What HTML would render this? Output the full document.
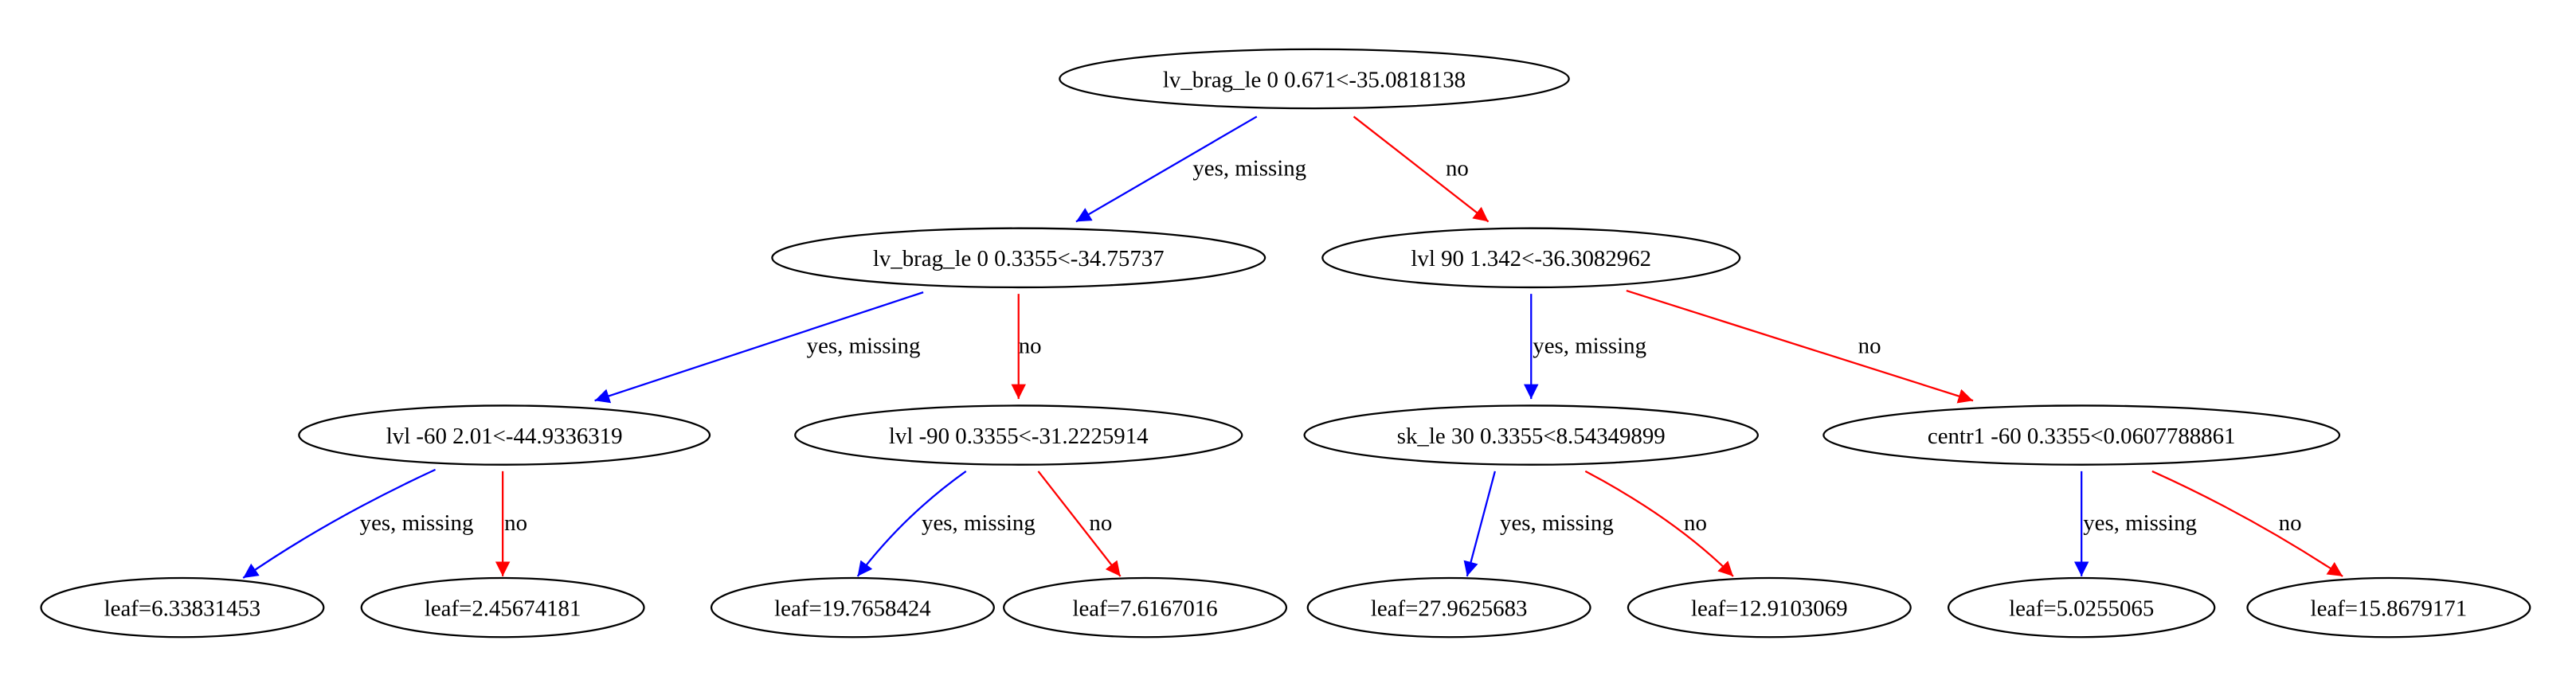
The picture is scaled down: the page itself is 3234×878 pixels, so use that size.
<!DOCTYPE html>
<html><head><meta charset="utf-8"><style>html,body{margin:0;padding:0;background:#fff}svg{display:block}</style></head>
<body>
<svg width="3234" height="878" viewBox="0 0 1568 425.7" preserveAspectRatio="none" xmlns="http://www.w3.org/2000/svg" font-family="Liberation Serif, serif" font-size="14">
<defs>
<marker id="b" viewBox="0 0 10 10" refX="10" refY="5" markerWidth="9" markerHeight="9" markerUnits="userSpaceOnUse" orient="auto"><path d="M0,0L10,5L0,10z" fill="#0000ff"/></marker>
<marker id="r" viewBox="0 0 10 10" refX="10" refY="5" markerWidth="9" markerHeight="9" markerUnits="userSpaceOnUse" orient="auto"><path d="M0,0L10,5L0,10z" fill="#ff0000"/></marker>
</defs>
<g fill="none" stroke-width="1.1">
<path d="M765,71 L655,135" stroke="#0000ff" marker-end="url(#b)"/>
<path d="M824,71 L906,135" stroke="#ff0000" marker-end="url(#r)"/>
<path d="M562,178 L362,244" stroke="#0000ff" marker-end="url(#b)"/>
<path d="M620,179 L620,243" stroke="#ff0000" marker-end="url(#r)"/>
<path d="M932,179 L932,243" stroke="#0000ff" marker-end="url(#b)"/>
<path d="M990,177 L1201,244" stroke="#ff0000" marker-end="url(#r)"/>
<path d="M265,286 Q200,316 148,352" stroke="#0000ff" marker-end="url(#b)"/>
<path d="M306,287 L306,351" stroke="#ff0000" marker-end="url(#r)"/>
<path d="M588,287 Q550,314 522,351" stroke="#0000ff" marker-end="url(#b)"/>
<path d="M632,287 L682,351" stroke="#ff0000" marker-end="url(#r)"/>
<path d="M910,287 L893,351" stroke="#0000ff" marker-end="url(#b)"/>
<path d="M965,287 Q1020,316 1055,351" stroke="#ff0000" marker-end="url(#r)"/>
<path d="M1267,287 L1267,351" stroke="#0000ff" marker-end="url(#b)"/>
<path d="M1310,287 Q1370,314 1426,351" stroke="#ff0000" marker-end="url(#r)"/>
</g>
<g fill="#fff" stroke="#000" stroke-width="1.1">
<ellipse cx="800" cy="48" rx="155" ry="18"/>
<ellipse cx="620" cy="157" rx="150" ry="18"/>
<ellipse cx="932" cy="157" rx="127" ry="18"/>
<ellipse cx="307" cy="265" rx="125" ry="18"/>
<ellipse cx="620" cy="265" rx="136" ry="18"/>
<ellipse cx="932" cy="265" rx="138" ry="18"/>
<ellipse cx="1267" cy="265" rx="157" ry="18"/>
<ellipse cx="111" cy="370" rx="86" ry="18"/>
<ellipse cx="306" cy="370" rx="86" ry="18"/>
<ellipse cx="519" cy="370" rx="86" ry="18"/>
<ellipse cx="697" cy="370" rx="86" ry="18"/>
<ellipse cx="882" cy="370" rx="86" ry="18"/>
<ellipse cx="1077" cy="370" rx="86" ry="18"/>
<ellipse cx="1267" cy="370" rx="81" ry="18"/>
<ellipse cx="1454" cy="370" rx="86" ry="18"/>
</g>
<g fill="#000" text-anchor="middle">
<text x="800" y="53">lv_brag_le 0 0.671&lt;-35.0818138</text>
<text x="620" y="162">lv_brag_le 0 0.3355&lt;-34.75737</text>
<text x="932" y="162">lvl 90 1.342&lt;-36.3082962</text>
<text x="307" y="270">lvl -60 2.01&lt;-44.9336319</text>
<text x="620" y="270">lvl -90 0.3355&lt;-31.2225914</text>
<text x="932" y="270">sk_le 30 0.3355&lt;8.54349899</text>
<text x="1267" y="270">centr1 -60 0.3355&lt;0.0607788861</text>
<text x="111" y="375">leaf=6.33831453</text>
<text x="306" y="375">leaf=2.45674181</text>
<text x="519" y="375">leaf=19.7658424</text>
<text x="697" y="375">leaf=7.6167016</text>
<text x="882" y="375">leaf=27.9625683</text>
<text x="1077" y="375">leaf=12.9103069</text>
<text x="1267" y="375">leaf=5.0255065</text>
<text x="1454" y="375">leaf=15.8679171</text>
</g>
<g fill="#000" text-anchor="start">
<text x="726" y="107">yes, missing</text>
<text x="880" y="107">no</text>
<text x="491" y="215">yes, missing</text>
<text x="620" y="215">no</text>
<text x="933" y="215">yes, missing</text>
<text x="1131" y="215">no</text>
<text x="219" y="323">yes, missing</text>
<text x="307" y="323">no</text>
<text x="561" y="323">yes, missing</text>
<text x="663" y="323">no</text>
<text x="913" y="323">yes, missing</text>
<text x="1025" y="323">no</text>
<text x="1268" y="323">yes, missing</text>
<text x="1387" y="323">no</text>
</g>
</svg>
</body></html>
